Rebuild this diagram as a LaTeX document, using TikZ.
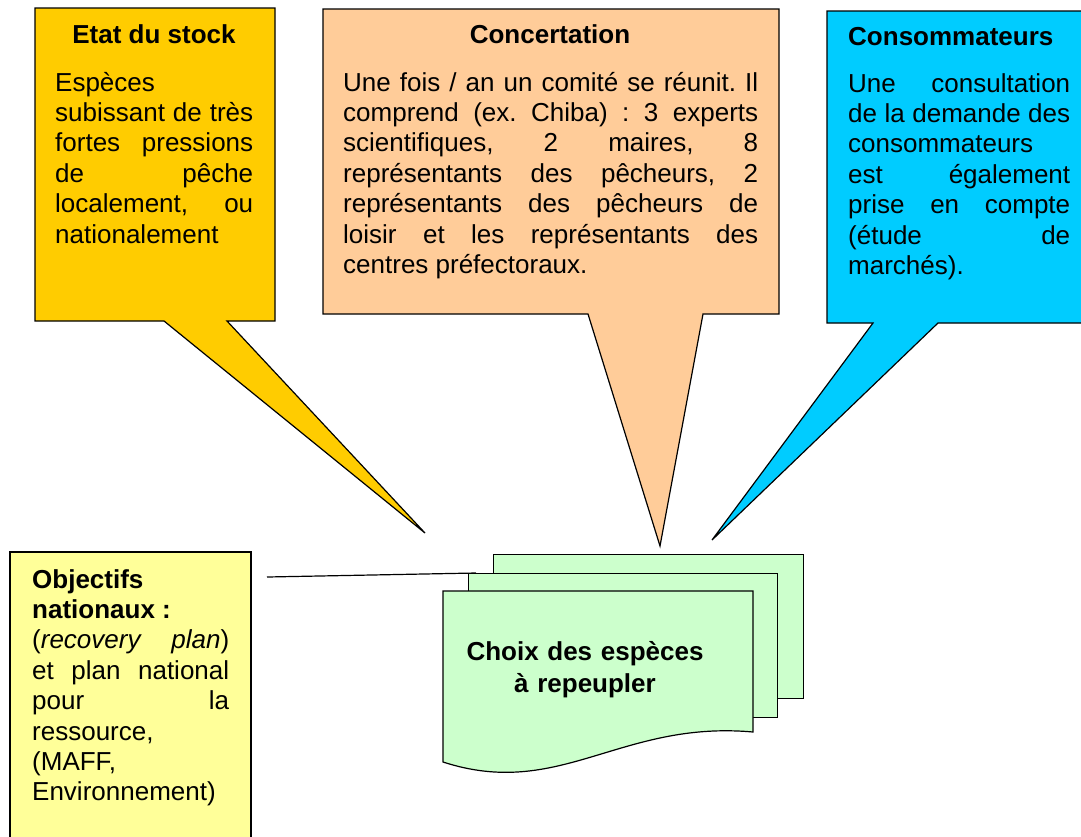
\documentclass[tikz,border=0pt]{standalone}
\usepackage{fontspec}
\setmainfont{Liberation Sans}
\usetikzlibrary{calc}
\definecolor{stockyellow}{HTML}{FFCC00}
\definecolor{concpeach}{HTML}{FFCC99}
\definecolor{consblue}{HTML}{00CCFF}
\definecolor{objyellow}{HTML}{FFFF99}
\definecolor{docgreen}{HTML}{CCFFCC}
\hyphenpenalty=10000
\exhyphenpenalty=10000
\tolerance=10000
\hbadness=10000
\frenchspacing
\newcommand{\boxfont}{\fontsize{26}{30.4}\selectfont}
\tikzset{
    bubble/.style={draw=black, line width=1.2pt},
    boxtitle/.style={font=\boxfont\bfseries, inner sep=0, anchor=base},
    boxtext/.style={font=\boxfont, inner sep=0, anchor=base west, align=justify},
    docpage/.style={draw=black, line width=1.2pt, fill=docgreen, inner sep=0, anchor=north west}
}

\begin{document}
\begin{tikzpicture}[x=1pt, y=-1pt]
\clip (0,0) rectangle (1081,836);
% callouts
\foreach \col/\xl/\yt/\xr/\yb/\ta/\tb/\tipx/\tipy in {stockyellow/35/8/275/321/164/227/425/533, concpeach/323/9/779/314/588/703/660/546, consblue/827/11/1095/323/873/938/712/540}{
    \draw[bubble, fill=\col] (\xl,\yt) -- (\xr,\yt) -- (\xr,\yb) -- (\tb,\yb) -- (\tipx,\tipy) -- (\ta,\yb) -- (\xl,\yb) -- cycle;
}
\node (stocktitle) at (154,43)[boxtitle] {Etat du stock};
\node (stocktext) at (55,91)[boxtext, text width=198] {Espèces\linebreak subissant de très\linebreak fortes pressions\linebreak de pêche\linebreak localement, ou\linebreak nationalement};
\node (conctitle) at (550,43)[boxtitle] {Concertation};
\node (conctext) at (343,91)[boxtext, text width=415] {Une fois / an un comité se réunit. Il\linebreak comprend (ex. Chiba) : 3 experts\linebreak scientifiques, 2 maires, 8\linebreak représentants des pêcheurs, 2\linebreak représentants des pêcheurs de\linebreak loisir et les représentants des\linebreak centres préfectoraux.};
\node (constitle) at (848,45)[boxtitle, anchor=base west] {Consommateurs};
\node (constext) at (848,92)[boxtext, text width=222] {Une consultation\linebreak de la demande des\linebreak consommateurs\linebreak est également\linebreak prise en compte\linebreak (étude de\linebreak marchés).};
% objectifs
\draw[bubble, fill=objyellow] (10,552) rectangle (251,850);
\node (objtext) at (32,588)[boxtext, text width=197] {\textbf{Objectifs\linebreak nationaux :}\hspace*{\fill}\linebreak (\textit{recovery plan})\linebreak et plan national\linebreak pour la\linebreak ressource,\linebreak (MAFF,\linebreak Environnement)};
% documents
\node[docpage, minimum width=310, minimum height=144] (docback) at (493,554) {};
\node[docpage, minimum width=309, minimum height=144] (docmid) at (468,573) {};
\draw[bubble, fill=docgreen] (443,591) -- (753,591) -- (753,732) .. controls (620,720) and (560,800) .. (443,762) -- cycle;
\node (choix) at (585,660)[boxtext, anchor=base, align=center, text width=280, font=\fontsize{26}{32}\selectfont\bfseries] {Choix des espèces\\à repeupler};
\coordinate (objlink) at (267,577);
\draw[line width=1.2pt] (objlink) -- ($(docmid.north west)+(8,0)$);
\end{tikzpicture}
\end{document}
